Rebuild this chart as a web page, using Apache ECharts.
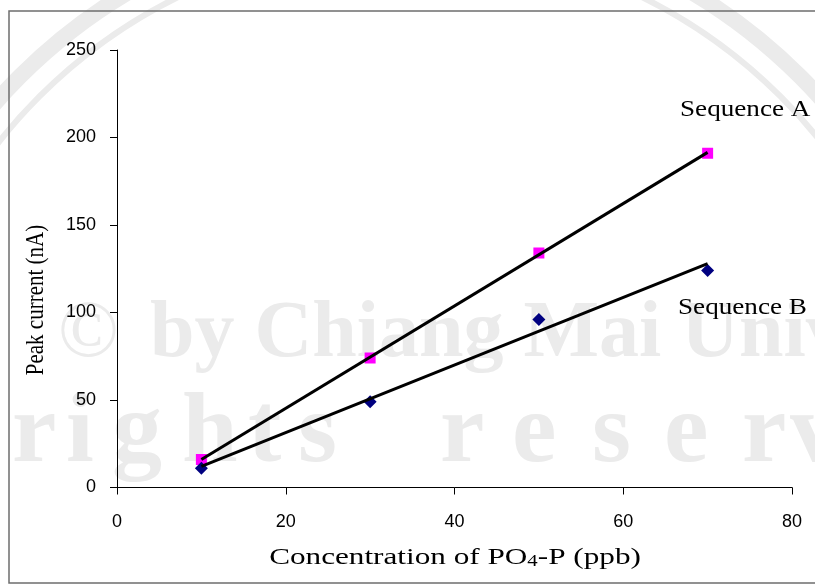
<!DOCTYPE html>
<html>
<head>
<meta charset="utf-8">
<script src="https://cdn.jsdelivr.net/npm/echarts@6/dist/echarts.min.js"></script>
<style>
  html, body { margin: 0; padding: 0; background: #fff; }
  #chart { width: 815px; height: 587px; }
</style>
</head>
<body>
<div id="chart"></div>
<script>
// Phosphate calibration: peak current vs PO4-P concentration
const concentration = [10, 30, 50, 70];          // ppb
const sequenceA = [16, 74, 134, 191];            // nA
const sequenceB = [11, 49, 96, 124];             // nA
const xTicks = [0, 20, 40, 60, 80];
const yTicks = [0, 50, 100, 150, 200, 250];

// least-squares fit, evaluated at the first and last concentration
function trend(xs, ys) {
  const n = xs.length;
  const mx = xs.reduce((a, b) => a + b, 0) / n;
  const my = ys.reduce((a, b) => a + b, 0) / n;
  let sxy = 0, sxx = 0;
  for (let i = 0; i < n; i++) {
    sxy += (xs[i] - mx) * (ys[i] - my);
    sxx += (xs[i] - mx) * (xs[i] - mx);
  }
  const k = sxy / sxx, b = my - k * mx;
  const x0 = xs[0], x1 = xs[n - 1];
  return [[x0, k * x0 + b], [x1, k * x1 + b]];
}

const serif = '"Liberation Serif", "Times New Roman", serif';
const sans = '"Liberation Sans", Arial, sans-serif';

const chart = echarts.init(document.getElementById('chart'), null, { renderer: 'canvas' });

// faint background watermark
const wm = '#ebebeb';
const wmLetters = [['r', 12], ['i', 66], ['g', 112], ['h', 182], ['t', 248], ['s', 298],
                   ['r', 440], ['e', 512], ['s', 592], ['e', 664], ['r', 742], ['v', 790]];
const watermark = [
  { type: 'circle', shape: { cx: 410, cy: 467, r: 552 }, style: { fill: 'none', stroke: wm, lineWidth: 16 }, z: -10, silent: true },
  { type: 'circle', shape: { cx: 410, cy: 467, r: 524 }, style: { fill: 'none', stroke: wm, lineWidth: 6 }, z: -10, silent: true },
  { type: 'text', x: 58, y: 335, style: { text: '©', font: '80px ' + serif, fill: wm, verticalAlign: 'middle' }, z: -10, silent: true },
  { type: 'text', x: 150, y: 335, style: { text: 'by Chiang Mai University', font: 'bold 80px ' + serif, fill: wm, verticalAlign: 'middle' }, z: -10, silent: true }
].concat(wmLetters.map(([ch, x]) => ({
  type: 'text', x: x, y: 435, style: { text: ch, font: 'bold 100px ' + serif, fill: wm, verticalAlign: 'middle' }, z: -10, silent: true
})));

chart.setOption({
  animation: false,
  backgroundColor: '#ffffff',
  grid: { left: 117, right: 23, top: 50, bottom: 99.5, containLabel: false },
  xAxis: {
    type: 'value', min: xTicks[0], max: xTicks[xTicks.length - 1], interval: 20,
    axisLine: { onZero: false, lineStyle: { color: '#000', width: 1 } },
    axisTick: { show: true, inside: false, length: 7, lineStyle: { color: '#000' } },
    axisLabel: { color: '#000', fontFamily: sans, fontSize: 18, margin: 26 },
    splitLine: { show: false }
  },
  yAxis: {
    type: 'value', min: yTicks[0], max: yTicks[yTicks.length - 1], interval: 50,
    axisLine: { show: true, lineStyle: { color: '#000', width: 1 } },
    axisTick: { show: true, inside: false, length: 7, lineStyle: { color: '#000' } },
    axisLabel: { color: '#000', fontFamily: sans, fontSize: 18, margin: 21 },
    splitLine: { show: false }
  },
  graphic: watermark.concat([
    { type: 'rect', shape: { x: 9, y: 11, width: 820, height: 572 }, style: { fill: 'none', stroke: '#6e6e6e', lineWidth: 1.5 }, z: 100, silent: true },
    { type: 'text', x: 37, y: 300, rotation: Math.PI / 2, scaleY: 1.15, style: { text: 'Peak current (nA)', font: '21px ' + serif, fill: '#000', align: 'center', verticalAlign: 'middle' }, z: 100 },
    { type: 'text', x: 455, y: 556, scaleX: 1.3, style: {
        text: '{n|Concentration of PO}{s|4}{n|-P (ppb)}',
        align: 'center', verticalAlign: 'middle',
        rich: {
          n: { font: '24px ' + serif, fill: '#000', lineHeight: 28, verticalAlign: 'bottom' },
          s: { font: '16px ' + serif, fill: '#000', lineHeight: 21, verticalAlign: 'bottom' }
        }
      }, z: 100 },
    { type: 'text', x: 680, y: 110, scaleX: 1.18, style: { text: 'Sequence A', font: '23px ' + serif, fill: '#000', verticalAlign: 'middle' }, z: 100 },
    { type: 'text', x: 678, y: 308, scaleX: 1.18, style: { text: 'Sequence B', font: '23px ' + serif, fill: '#000', verticalAlign: 'middle' }, z: 100 }
  ]),
  series: [
    {
      name: 'Sequence A', type: 'scatter', symbol: 'rect', symbolSize: 11,
      itemStyle: { color: '#ff00ff', opacity: 1 },
      data: concentration.map((c, i) => [c, sequenceA[i]]), z: 2
    },
    {
      name: 'Sequence B', type: 'scatter', symbol: 'diamond', symbolSize: 13,
      itemStyle: { color: '#000080', opacity: 1 },
      data: concentration.map((c, i) => [c, sequenceB[i]]), z: 2
    },
    {
      name: 'Fit A', type: 'line', showSymbol: false, symbol: 'none',
      lineStyle: { color: '#000', width: 3 }, data: trend(concentration, sequenceA), z: 3
    },
    {
      name: 'Fit B', type: 'line', showSymbol: false, symbol: 'none',
      lineStyle: { color: '#000', width: 3 }, data: trend(concentration, sequenceB), z: 3
    }
  ]
});
</script>
</body>
</html>
